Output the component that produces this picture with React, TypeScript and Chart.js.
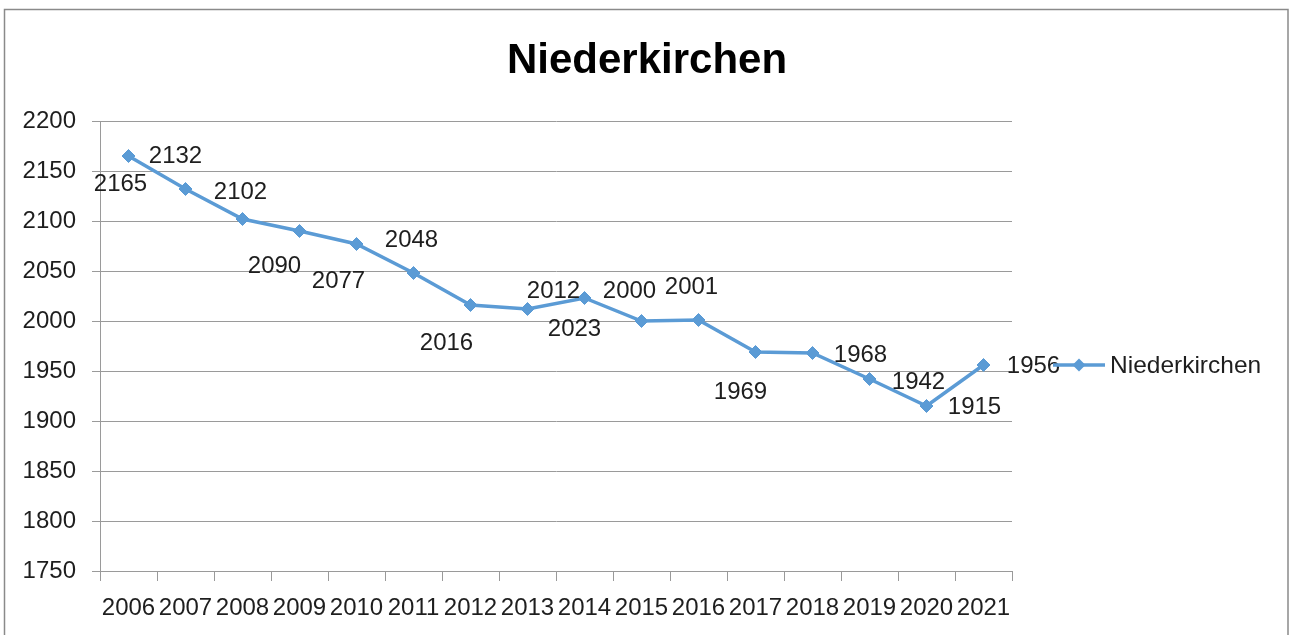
import React, { useEffect, useRef } from "react";
import { Chart, registerables } from "chart.js";

Chart.register(...registerables);

const TITLE = "Niederkirchen";
const SERIES_NAME = "Niederkirchen";
const years = ["2006", "2007", "2008", "2009", "2010", "2011", "2012", "2013", "2014", "2015", "2016", "2017", "2018", "2019", "2020", "2021"];
const population = [2165, 2132, 2102, 2090, 2077, 2048, 2016, 2012, 2023, 2000, 2001, 1969, 1968, 1942, 1915, 1956];
const yMin = 1750;
const yMax = 2200;
const yStep = 50;

// style: data label offsets (px) relative to each point
const labelOffsets: [number, number][] = [
  [-8, 28], [-10, -33], [-2, -27], [-25, 35], [-18, 37], [-2, -33], [-24, 38], [26, -18],
  [-10, 31], [-12, -30], [-7, -33], [-15, 40], [48, 2], [49, 3], [48, 1], [50, 1],
];

const FONT = "'Liberation Sans', Arial, sans-serif";
const BLUE = "#5B9BD5";
const GRID = "#9a9a9a";
const TEXT = "#1e1e1e";

function drawDiamond(ctx: CanvasRenderingContext2D, x: number, y: number, r: number) {
  ctx.beginPath();
  ctx.moveTo(x, y - r);
  ctx.lineTo(x + r, y);
  ctx.lineTo(x, y + r);
  ctx.lineTo(x - r, y);
  ctx.closePath();
  ctx.fill();
}

const decorPlugin = {
  id: "decor",
  beforeDraw(chart: any) {
    const ctx = chart.ctx as CanvasRenderingContext2D;
    ctx.save();
    ctx.fillStyle = "#ffffff";
    ctx.fillRect(0, 0, chart.width, chart.height);
    ctx.strokeStyle = "#8a8a8a";
    ctx.lineWidth = 1.5;
    ctx.strokeRect(4.5, 9.5, 1283.5, 700);
    ctx.restore();
  },
  afterDatasetsDraw(chart: any) {
    const ctx = chart.ctx as CanvasRenderingContext2D;
    const meta = chart.getDatasetMeta(0);
    ctx.save();
    ctx.font = `24px ${FONT}`;
    ctx.fillStyle = TEXT;
    ctx.textAlign = "center";
    ctx.textBaseline = "middle";
    meta.data.forEach((pt: any, i: number) => {
      const off = labelOffsets[i] || [0, -20];
      ctx.fillText(String(population[i]), pt.x + off[0], pt.y + off[1]);
    });
    // title
    ctx.font = `bold 42px ${FONT}`;
    ctx.fillStyle = "#000000";
    ctx.fillText(TITLE, 647, 61);
    // legend
    const ly = (chart.chartArea.top + chart.chartArea.bottom) / 2 + 19;
    ctx.strokeStyle = BLUE;
    ctx.lineWidth = 3.5;
    ctx.beginPath();
    ctx.moveTo(1053, ly);
    ctx.lineTo(1105, ly);
    ctx.stroke();
    ctx.fillStyle = BLUE;
    drawDiamond(ctx, 1079, ly, 6.5);
    ctx.fillStyle = TEXT;
    ctx.textAlign = "left";
    ctx.font = `24.5px ${FONT}`;
    ctx.fillText(SERIES_NAME, 1110, ly + 1);
    ctx.restore();
  },
};

export default function App() {
  const ref = useRef<HTMLCanvasElement | null>(null);
  useEffect(() => {
    document.body.style.margin = "0";
    if (!ref.current) return;
    const chart = new Chart(ref.current, {
      type: "line",
      data: {
        labels: years,
        datasets: [
          {
            label: SERIES_NAME,
            data: population,
            borderColor: BLUE,
            backgroundColor: BLUE,
            borderWidth: 3.5,
            tension: 0,
            pointStyle: "rectRot",
            pointRadius: 6.5,
            pointBorderWidth: 1,
            pointBackgroundColor: BLUE,
            pointBorderColor: BLUE,
          },
        ],
      },
      options: {
        responsive: false,
        animation: false,
        layout: { padding: { left: 0, right: 278, top: 121, bottom: 0 } },
        plugins: {
          legend: { display: false },
          title: { display: false },
          tooltip: { enabled: false },
        },
        scales: {
          x: {
            offset: true,
            grid: { display: true, drawOnChartArea: false, offset: true, color: GRID, tickLength: 10, lineWidth: 1 },
            border: { display: true, color: GRID, width: 1 },
            ticks: { color: TEXT, font: { family: FONT, size: 24 }, padding: 13, maxRotation: 0, autoSkip: false },
            afterFit: (s: any) => { s.height = 64; },
          },
          y: {
            min: yMin,
            max: yMax,
            grid: { color: GRID, tickLength: 8, lineWidth: 1 },
            border: { display: true, color: GRID, width: 1 },
            ticks: {
              stepSize: yStep,
              color: TEXT,
              font: { family: FONT, size: 24 },
              padding: 16,
              callback: (v: any) => String(v),
            },
            afterFit: (s: any) => { s.width = 100; },
          },
        },
      },
      plugins: [decorPlugin],
    });
    return () => chart.destroy();
  }, []);
  return (
    <div style={{ width: 1290, height: 635 }}>
      <canvas ref={ref} width={1290} height={635} style={{ display: "block" }} />
    </div>
  );
}
